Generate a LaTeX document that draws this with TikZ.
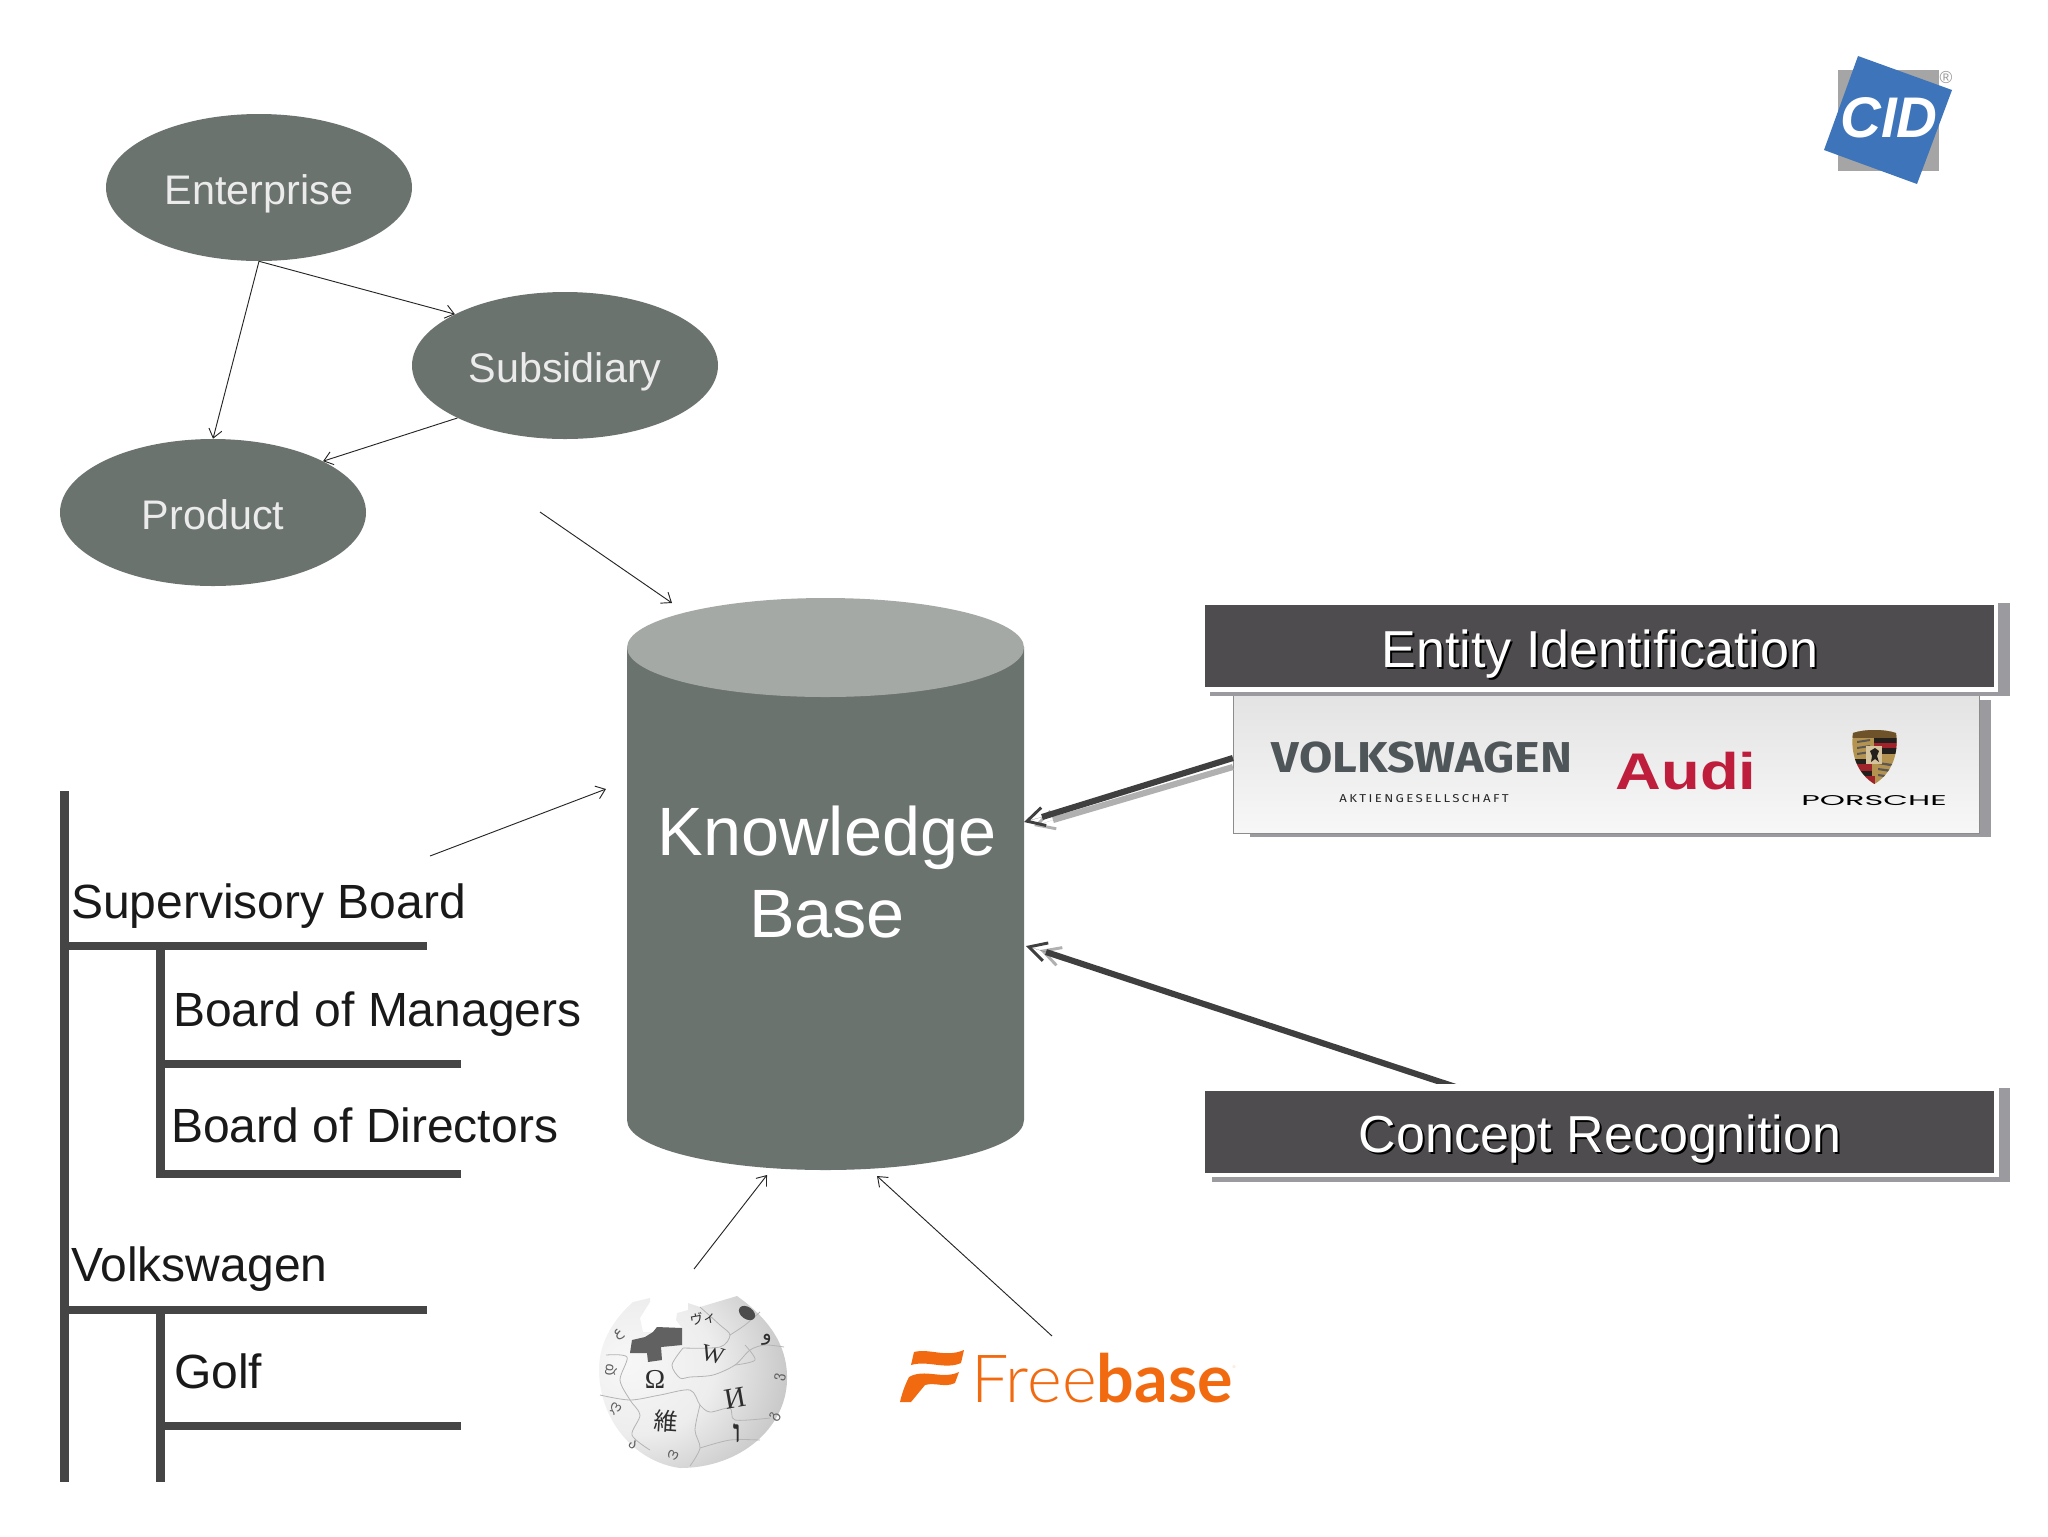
\documentclass[tikz,border=0pt]{standalone}
\usepackage{fontspec}
\usepackage{graphicx}
\setmainfont{Liberation Sans}
\newfontfamily\cjkf{Noto Sans CJK JP}
\newfontfamily\arf[Script=Arabic]{DejaVu Sans}
\newfontfamily\hef[Script=Hebrew]{Liberation Serif}
\newfontfamily\serf{Liberation Serif}
\newfontfamily\djf{DejaVu Sans}
\newfontfamily\vwf{Fira Sans}
\newfontfamily\psf{Poppins}
\newfontfamily\latof{Lato}
\newfontfamily\latol{Lato Light}
\usetikzlibrary{shapes.geometric,arrows.meta}
\definecolor{ellgray}{HTML}{6B736F}
\definecolor{cyltop}{HTML}{A5A9A6}
\definecolor{boxdark}{HTML}{4E4C4E}
\definecolor{boxshadow}{HTML}{9B9A9F}
\definecolor{treeline}{HTML}{454545}
\definecolor{arrowdark}{HTML}{3F3F3F}
\definecolor{arrowlight}{HTML}{B0B0B0}
\definecolor{vwgray}{HTML}{4F5659}
\definecolor{audired}{HTML}{BE1E3C}
\definecolor{fbo}{HTML}{F26A0F}
\definecolor{cidblue}{HTML}{3E74BA}
\definecolor{cidgray}{HTML}{A5A5A5}
\definecolor{seam}{HTML}{B4B4B4}
\definecolor{crestgold}{HTML}{B3934F}
\definecolor{crestred}{HTML}{A0232B}
\definecolor{crestdark}{HTML}{231F1C}
\definecolor{crestbrown}{HTML}{6E5229}
\pgfdeclareradialshading{globeshade}{\pgfpoint{-18bp}{6bp}}{color(0bp)=(black!3);color(20bp)=(black!7);color(42bp)=(black!26);color(58bp)=(black!50);color(100bp)=(black!60)}
\newcommand{\fitto}[3]{\resizebox{#1pt}{#2pt}{#3}}
\tikzset{
  entity/.style={ellipse,fill=ellgray,text=white!92!black,minimum width=229.5pt,minimum height=110.25pt,inner sep=0pt,text height=25.4pt,text depth=0pt,font=\fontsize{31}{34}\selectfont},
  thinarrow/.style={draw=black!85,line width=0.7pt,-{Straight Barb[length=6.5pt,width=10pt,line width=0.7pt]}},
  treebar/.style={draw=treeline,line width=6.4pt},
  treelabel/.style={anchor=base west,inner sep=0pt,font=\fontsize{36}{40}\selectfont,text=black!90},
  boxbar/.style={fill=boxdark,draw=none,minimum width=591.75pt,minimum height=61.5pt,inner sep=0pt},
  barlabel/.style={inner sep=0pt,text=white,font=\fontsize{39}{44}\selectfont},
  barshade/.style={inner sep=0pt,text=black,font=\fontsize{39}{44}\selectfont},
  thickline/.style={line width=4.6pt},
  thickhead/.style={line width=0.05pt,-{Straight Barb[length=13pt,width=14pt,line width=2.2pt]}},
  logo/.style={inner sep=0pt,anchor=center},
  globeglyph/.style={inner sep=0pt,text=black!82},
  rimglyph/.style={inner sep=0pt,text=black!62,font=\djf\fontsize{11}{11}\selectfont},
  seamline/.style={draw=seam,line width=0.6pt}
}
\begin{document}
\begin{tikzpicture}[x=0.75pt,y=-0.75pt]
\useasboundingbox (0,0) rectangle (2048,1536);
% CID logo
\fill[cidgray] (1838,70) rectangle (1939,171);
\fill[cidblue] (1858,56) -- (1952,90) -- (1917,184) -- (1824,150) -- cycle;
\node[logo,text=white] (cid) at (1889,118) {\fitto{73}{30}{\bfseries\itshape CID}};
\node[logo,text=black!40,font=\fontsize{13}{13}\selectfont] (reg) at (1946,78) {®};
% ER graph
\node[entity] (ent) at (259,187.5) {Enterprise};
\node[entity] (sub) at (565,365.5) {Subsidiary};
\node[entity] (prod) at (213,512.5) {Product};
\draw[thinarrow] (ent.south) -- (prod.north);
\draw[thinarrow] (ent.south) -- (sub.155);
\draw[thinarrow] (sub.206) -- (prod.25);
% Cylinder
\fill[ellgray] (627,647) -- (627,1120) .. controls (627,1148) and (717,1170) .. (825.5,1170) .. controls (935,1170) and (1024,1148) .. (1024,1120) -- (1024,647) -- cycle;
\fill[cyltop] (825.5,647.5) ellipse [x radius=198.5,y radius=49.5];
\node[inner sep=0pt,align=center,text=white,font=\fontsize{51.3}{61.2}\selectfont] (kb) at (827,872) {Knowledge\\Base};
\coordinate (kbtopin) at (672,603);
\coordinate (kbleftin) at (606,789);
\coordinate (kbwiki) at (767,1175);
\coordinate (kbfree) at (877,1176);
\coordinate (kbent) at (1024,822);
\coordinate (kbentneck) at (1042,817);
\coordinate (kbentgray) at (1034,826);
\coordinate (kbentgrayneck) at (1053,820);
\coordinate (kbcon) at (1026,946);
\coordinate (kbconneck) at (1046,952);
\coordinate (kbcongray) at (1040,950);
\coordinate (erout) at (540,512);
\coordinate (treeout) at (430,856);
\draw[thinarrow] (erout) -- (kbtopin);
\draw[thinarrow] (treeout) -- (kbleftin);
% Tree
\draw[treebar] (64.5,791) -- (64.5,1482);
\draw[treebar] (60,946) -- (427,946);
\draw[treebar] (160.5,946) -- (160.5,1176);
\draw[treebar] (160.5,1064) -- (461,1064);
\draw[treebar] (156,1174) -- (461,1174);
\draw[treebar] (60,1310) -- (427,1310);
\draw[treebar] (160.5,1310) -- (160.5,1482);
\draw[treebar] (160.5,1426) -- (461,1426);
\node[treelabel] (t1) at (71,918) {Supervisory Board};
\node[treelabel] (t2) at (173,1026.5) {Board of Managers};
\node[treelabel] (t3) at (171,1142.5) {Board of Directors};
\node[treelabel] (t4) at (71,1281) {Volkswagen};
\node[treelabel] (t5) at (174,1388.5) {Golf};
% Concept arrow goes first: the bar cuts its end
\coordinate (conout) at (1477,1094);
\draw[thickhead,draw=arrowlight] (kbconneck) -- (kbcongray);
\draw[thickline,draw=arrowdark] (conout) -- (kbconneck);
\draw[thickhead,draw=arrowdark] (kbconneck) -- (kbcon);
% Panel
\fill[boxshadow] (1250,700) rectangle (1991,837);
\node[inner sep=0pt,minimum width=559.25pt,minimum height=103.5pt,draw=black!45,line width=0.4pt,top color=black!11,bottom color=black!3] (panel) at (1606,764) {};
\node[logo,text=vwgray] (vw) at (1422,757.5) {\fitto{225}{23}{\vwf\bfseries VOLKSWAGEN}};
\node[logo,text=black!85] (ag) at (1424,799) {\fitto{127}{6}{\vwf\addfontfeatures{LetterSpace=18}AKTIENGESELLSCHAFT}};
\node[logo,text=audired] (audi) at (1686,771.5) {\fitto{105.5}{28}{\bfseries Audi}};
\node[logo,text=black] (pors) at (1874,801) {\fitto{109}{7.5}{\psf PORSCHE}};
\draw[thickline,draw=arrowlight] ([yshift=-2.25pt]panel.west) -- (kbentgrayneck);
\draw[thickhead,draw=arrowlight] (kbentgrayneck) -- (kbentgray);
\draw[thickline,draw=arrowdark] ([yshift=4.5pt]panel.west) -- (kbentneck);
\draw[thickhead,draw=arrowdark] (kbentneck) -- (kbent);
% Porsche crest
\begin{scope}
\clip (1853,733) .. controls (1864,729) and (1885,729) .. (1896,733) .. controls (1899,755) and (1891,774) .. (1874.5,784) .. controls (1858,774) and (1850,755) .. (1853,733) -- cycle;
\fill[crestgold] (1848,726) rectangle (1900,790);
\fill[crestbrown] (1848,726) rectangle (1900,738);
\fill[crestdark] (1874,738) rectangle (1900,743);
\fill[crestred] (1874,743) rectangle (1900,748);
\fill[crestdark] (1874,748) rectangle (1900,754);
\fill[crestdark] (1848,759) rectangle (1870,764);
\fill[crestred] (1848,764) rectangle (1872,771);
\fill[crestdark] (1848,771) rectangle (1872,776);
\fill[crestred] (1848,776) rectangle (1875,790);
\foreach \yy in {741,747,753} {\fill[crestdark!75] (1857,\yy) -- (1870,\yy-2) -- (1870,\yy) -- (1857,\yy+2) -- cycle;}
\foreach \yy in {762,768,774} {\fill[crestdark!75] (1878,\yy) -- (1893,\yy+2) -- (1890,\yy+4) -- (1878,\yy+2) -- cycle;}
\fill[white!45!crestgold] (1866,746) rectangle (1882,764);
\fill[crestdark] (1870,751) -- (1875,748) -- (1879,751) -- (1877,756) -- (1879,762) -- (1875,759) -- (1871,762) -- (1872,756) -- cycle;
\end{scope}
% Bars
\fill[boxshadow] (1998,603) rectangle (2010,696);
\fill[boxshadow] (1210,692) rectangle (2010,696);
\fill[white] (1205,605) rectangle (1998,692);
\node[boxbar] (eid) at (1599.5,646) {};
\node[barshade] at (1602,656) {Entity Identification};
\node[barlabel] (eidt) at (1600,654) {Entity Identification};
\fill[boxshadow] (1999,1088) rectangle (2010,1182);
\fill[boxshadow] (1212,1177) rectangle (2010,1182);
\fill[white] (1205,1084) rectangle (1999,1177);
\node[boxbar] (con) at (1599.5,1131.5) {};
\node[barshade] at (1602,1141) {Concept Recognition};
\node[barlabel] (cont) at (1600,1139) {Concept Recognition};
% Wikipedia globe
\path[shading=globeshade]
 (737,1296) .. controls (768,1318) and (788,1345) .. (787,1380) .. controls (786,1428) and (740,1468) .. (680,1468) .. controls (635,1462) and (598,1420) .. (599,1367) .. controls (600,1340) and (615,1318) .. (633,1302) -- (650,1298) -- (650,1302) -- (640,1318) -- (643,1332) -- (653,1332) -- (657,1327) -- (682,1328) -- (676,1320) -- (677,1313) -- (688,1310) -- (688,1303) -- (700,1307) -- cycle;
\fill[black!62] (630,1353) -- (632,1340) -- (645,1337) -- (653,1332) -- (657,1327) -- (682,1328) -- (682,1345) -- (661,1347) -- (662,1360) -- (648,1362) -- (647,1353) -- cycle;
\draw[seamline] plot[smooth] coordinates {(683,1348) (672,1365) (680,1378) (690,1377) (713,1375) (735,1365) (750,1350) (765,1345) (784,1347)};
\draw[seamline] plot[smooth] coordinates {(600,1395) (630,1400) (660,1395) (690,1390) (700,1405) (710,1412) (730,1408) (735,1420) (770,1418)};
\draw[seamline] plot[smooth] coordinates {(606,1355) (627,1357) (620,1380) (630,1400) (640,1415) (632,1435) (650,1450)};
\draw[seamline] plot[smooth] coordinates {(700,1307) (720,1325) (730,1335) (720,1347) (683,1348)};
\draw[seamline] plot[smooth] coordinates {(730,1335) (745,1325) (760,1312)};
\draw[seamline] plot[smooth] coordinates {(745,1345) (755,1360) (735,1365)};
\draw[seamline] plot[smooth] coordinates {(700,1405) (695,1430) (700,1448) (690,1466)};
\draw[seamline] plot[smooth] coordinates {(700,1448) (730,1440) (760,1440)};
\node[globeglyph,font=\serf\fontsize{20.5}{21}\selectfont] (gOmega) at (655,1379) {Ω};
\node[globeglyph,font=\serf\fontsize{18}{18}\selectfont,rotate=-14] (gW) at (713,1355) {W};
\node[globeglyph,font=\serf\fontsize{22}{22}\selectfont,rotate=10] (gI) at (735,1398) {И};
\node[globeglyph,font=\cjkf\fontsize{18}{18}\selectfont,rotate=-4] (gW2) at (666,1421) {維};
\node[globeglyph,font=\cjkf\fontsize{10}{10}\selectfont,rotate=10] (gKa) at (703,1318) {ヴィ};
\node[globeglyph,font=\hef\bfseries\fontsize{24}{24}\selectfont] (gVav) at (737,1433) {ו};
\node[globeglyph,font=\arf\fontsize{15}{15}\selectfont] (gAr) at (767,1340) {و};
\fill[black!70,rotate around={-35:(747,1313)}] (747,1313) ellipse [x radius=9,y radius=6];
\node[rimglyph,rotate=30] (r1) at (619,1335) {ع};
\node[rimglyph,rotate=80] (r2) at (611,1370) {დ};
\node[rimglyph,rotate=-30] (r3) at (615,1409) {ღ};
\node[rimglyph,rotate=-25] (r4) at (673,1455) {ო};
\node[rimglyph,rotate=-40] (r5) at (633,1445) {ა};
\node[rimglyph,rotate=80] (r6) at (780,1377) {ვ};
\node[rimglyph,rotate=60] (r7) at (775,1417) {გ};
% Freebase logo
\fill[fbo] (914,1352) .. controls (930,1348) and (945,1358) .. (964,1350) -- (961,1363) .. controls (945,1370) and (928,1360) .. (911,1365) -- cycle;
\fill[fbo] (909,1377) .. controls (925,1368) and (942,1380) .. (959,1372) -- (955,1383) .. controls (945,1388) and (935,1382) .. (925,1385) -- (911,1402) -- (900,1402) .. controls (902,1393) and (905,1385) .. (909,1377) -- cycle;
\node[logo,text=fbo] (free) at (1102,1378) {\fitto{196}{37}{\latol Free\latof\bfseries base}};
\node[logo,text=fbo!40,font=\fontsize{3}{3}\selectfont] (fbr) at (1234,1367) {®};
\coordinate (wikiout) at (694,1269);
\coordinate (freeout) at (1052,1336);
\draw[thinarrow] (wikiout) -- (kbwiki);
\draw[thinarrow] (freeout) -- (kbfree);
\end{tikzpicture}
\end{document}
